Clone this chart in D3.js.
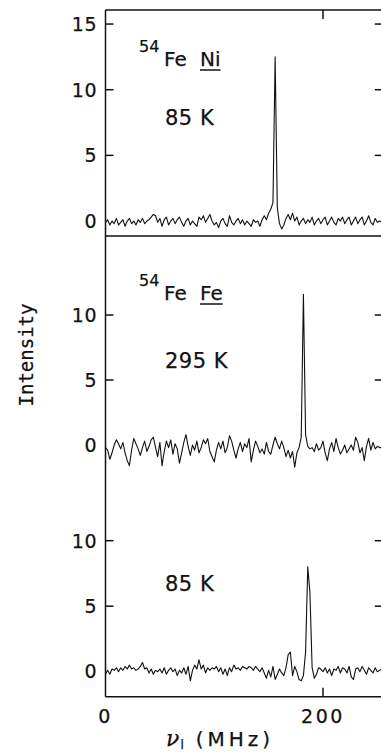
<!DOCTYPE html>
<html><head><meta charset="utf-8">
<script src="https://cdn.jsdelivr.net/npm/d3@7/dist/d3.min.js"></script>
<style>
html,body{margin:0;padding:0;background:#fff;}
svg text{fill:#111;stroke:#111;stroke-width:0.25;}
</style></head>
<body><svg id="c" width="381" height="754"></svg>
<script>
// Frequency grid step (MHz) — sample i is at i*freqStep
const freqStep = 2;
const xTicks = [0, 200];
const yTicksTop = [15, 10, 5];
const yTicksMid = [10, 5];
const yTicksBot = [10, 5];

// 54Fe in Ni, 85 K
const seriesNi85 = [
 -0.1,0.1,-0.3,0.0,-0.2,0.2,-0.3,-0.1,0.1,-0.4,
 0.0,0.2,-0.2,0.0,-0.3,0.1,-0.1,0.2,-0.2,0.0,
 0.1,0.3,0.5,0.4,-0.1,0.2,-0.4,0.1,0.3,-0.3,
 0.0,0.2,-0.2,0.1,0.3,-0.1,-0.4,0.0,0.2,-0.3,
 0.0,-0.2,-0.4,0.3,0.1,0.4,-0.1,0.2,0.5,0.0,
 -0.3,-0.1,-0.5,0.0,0.2,-0.2,-0.4,0.4,-0.1,-0.3,
 0.0,0.2,-0.2,0.1,-0.3,0.0,-0.2,-0.4,0.1,-0.1,
 0.0,-0.4,0.1,0.4,0.1,0.6,0.9,1.4,12.5,1.0,
 -0.2,-0.6,-0.3,0.2,0.5,0.1,0.6,0.0,0.3,-0.3,
 0.0,0.2,-0.2,0.1,-0.1,0.3,-0.3,0.0,0.2,-0.2,
 0.1,0.3,-0.3,0.0,0.3,-0.1,-0.3,0.2,0.0,0.3,
 -0.2,0.1,0.3,-0.3,0.0,0.3,-0.2,0.1,0.3,-0.3,
 0.0,0.4,-0.1,-0.3,0.2,-0.1,0.0,-0.1
];
// 54Fe in Fe, 295 K
const seriesFe295 = [
 -0.2,-0.4,-1.1,-0.6,0.0,0.4,0.1,-0.3,0.2,-0.6,
 -1.2,-1.6,-0.4,0.5,0.1,-0.3,-0.8,-0.2,0.3,-0.5,
 -0.1,0.4,0.6,-0.2,-0.9,0.2,-1.6,-0.5,0.3,-0.2,
 0.4,-0.7,0.1,-0.3,-1.4,-0.6,0.2,0.8,-0.1,-0.8,
 0.0,-0.4,0.3,-0.6,-0.2,0.4,0.1,0.5,-0.5,-0.9,
 -1.3,-0.4,0.2,-0.3,0.3,-0.6,-0.2,0.7,0.3,-0.4,
 -1.0,-0.3,0.2,-0.5,0.1,-0.2,0.5,-1.3,-0.4,0.3,
 -0.1,-0.6,-0.3,-0.7,0.2,-0.5,-0.7,0.0,0.6,0.1,
 -0.3,0.3,-0.2,-0.9,-0.4,-1.0,-0.5,-1.7,-0.6,-0.2,
 0.6,11.6,0.8,-0.1,-0.3,-0.2,-0.5,0.1,-0.4,-0.2,
 0.3,-0.6,-1.2,-0.3,0.2,-0.5,0.5,-0.2,-0.7,-0.4,
 0.0,-0.6,-0.3,0.0,-0.4,0.6,0.2,-0.6,-0.2,-1.2,
 -0.1,0.5,-0.4,0.2,-0.3,-0.1,-0.2,-0.2
];
// 54Fe in Fe, 85 K
const seriesFe85 = [
 -0.2,0.1,-0.2,0.2,0.1,0.3,0.0,0.3,0.1,0.4,
 0.2,0.5,0.2,0.3,0.1,0.2,0.4,0.7,0.2,0.3,
 -0.1,0.2,-0.2,0.1,0.0,0.2,-0.1,0.3,-0.2,0.1,
 0.3,0.0,0.2,-0.3,0.1,-0.1,0.3,-0.2,0.4,-0.7,
 0.1,0.5,0.2,0.9,0.2,0.5,-0.1,0.3,0.1,0.3,
 0.2,0.4,0.0,0.3,-0.2,0.2,-0.3,0.3,0.0,0.5,
 0.2,0.3,0.1,0.4,0.3,0.2,0.4,0.3,0.1,0.4,
 0.2,0.0,0.3,-0.1,-0.5,0.1,-0.4,0.4,-0.6,-0.2,
 0.2,-0.1,-0.3,0.3,1.3,1.5,-0.3,0.4,0.0,-0.6,
 -0.7,-0.3,1.5,8.0,6.0,0.3,-0.5,-0.2,0.3,0.2,
 0.0,0.3,-0.1,0.2,-0.3,0.2,0.1,0.4,-0.1,0.3,
 0.2,-0.1,0.4,-0.4,-0.6,0.2,0.3,0.0,0.4,0.1,
 -0.2,0.3,0.1,-0.1,0.3,0.0,0.1,0.2
];

const svg = d3.select("#c");
const numFont = "'DejaVu Sans', sans-serif";

const x = d3.scaleLinear().domain([0, 255]).range([105.5, 382.8]);
const yTop = d3.scaleLinear().domain([-1.14, 16.07]).range([236, 10]);
const yMid = d3.scaleLinear().domain([0, 16.08]).range([445, 236]);
const yBot = d3.scaleLinear().domain([-1.92, 10]).range([696.8, 540.7]);

const xLeft = x(0), xRight = x(255);

// frame lines
const frame = svg.append("g").attr("stroke", "#111").attr("stroke-width", 1.5).attr("fill", "none");
frame.append("line").attr("x1", xLeft).attr("x2", xRight).attr("y1", yTop.range()[1]).attr("y2", yTop.range()[1]);
frame.append("line").attr("x1", xLeft).attr("x2", xRight).attr("y1", yTop.range()[0]).attr("y2", yTop.range()[0]);
frame.append("line").attr("x1", xLeft).attr("x2", xRight).attr("y1", yBot.range()[0]).attr("y2", yBot.range()[0]);
frame.append("line").attr("x1", xLeft).attr("x2", xLeft).attr("y1", yTop.range()[1]).attr("y2", yBot.range()[0]);
frame.append("line").attr("x1", xRight).attr("x2", xRight).attr("y1", yTop.range()[1]).attr("y2", yBot.range()[0]);

// x ticks (inward) on top and bottom
xTicks.filter(d => d > 0).forEach(d => {
  frame.append("line").attr("x1", x(d)).attr("x2", x(d)).attr("y1", yTop.range()[1]).attr("y2", yTop.range()[1] + 9);
  frame.append("line").attr("x1", x(d)).attr("x2", x(d)).attr("y1", yBot.range()[0]).attr("y2", yBot.range()[0] - 9);
});
svg.append("g").selectAll("text").data(xTicks).join("text")
  .attr("x", d => x(d)).attr("y", 723).attr("text-anchor", "middle")
  .attr("font-family", numFont).attr("font-size", 19).attr("letter-spacing", 2.5)
  .text(d => d);

// y ticks per panel
function yAxis(scale, ticks) {
  ticks.forEach(t => {
    frame.append("line").attr("x1", xLeft).attr("x2", xLeft + 8).attr("y1", scale(t)).attr("y2", scale(t));
    frame.append("line").attr("x1", xRight).attr("x2", xRight - 8).attr("y1", scale(t)).attr("y2", scale(t));
  });
  svg.append("g").selectAll("text").data(ticks.concat([0])).join("text")
    .attr("x", 97).attr("y", d => scale(d)).attr("dy", "0.36em").attr("text-anchor", "end")
    .attr("font-family", numFont).attr("font-size", 19).attr("letter-spacing", 0.5)
    .text(d => d);
}
yAxis(yTop, yTicksTop);
yAxis(yMid, yTicksMid);
yAxis(yBot, yTicksBot);

// traces
function trace(values, scale) {
  const line = d3.line().x((d, i) => x(i * freqStep)).y(d => scale(d));
  svg.append("path").attr("d", line(values)).attr("fill", "none")
    .attr("stroke", "#111").attr("stroke-width", 1.1).attr("stroke-linejoin", "round");
}
trace(seriesNi85, yTop);
trace(seriesFe295, yMid);
trace(seriesFe85, yBot);

// panel labels
function isoLabel(yBase, host) {
  const g = svg.append("g").attr("font-family", numFont);
  g.append("text").attr("x", 139).attr("y", yBase - 14).attr("font-size", 16).text("54");
  g.append("text").attr("x", 164).attr("y", yBase).attr("font-size", 20).text("Fe");
  const h = g.append("text").attr("x", 200).attr("y", yBase).attr("font-size", 20).text(host);
  const w = h.node().getComputedTextLength();
  g.append("line").attr("x1", 200).attr("x2", 200 + w).attr("y1", yBase + 4).attr("y2", yBase + 4)
    .attr("stroke", "#111").attr("stroke-width", 1.5);
}
isoLabel(66, "Ni");
isoLabel(300, "Fe");

function tempLabel(txt, yBase) {
  svg.append("text").attr("x", 165).attr("y", yBase).attr("font-family", numFont)
    .attr("font-size", 21).attr("letter-spacing", 0.5).text(txt);
}
tempLabel("85 K", 125);
tempLabel("295 K", 368);
tempLabel("85 K", 591);

// axis titles
svg.append("text").attr("transform", "translate(33,355) rotate(-90)")
  .attr("text-anchor", "middle").attr("font-family", "'DejaVu Sans Mono', monospace")
  .attr("font-size", 19).text("Intensity");

const xt = svg.append("text").attr("x", 166).attr("y", 746).attr("font-family", numFont).attr("font-size", 20);
xt.append("tspan").attr("font-family", "'DejaVu Serif', serif").attr("font-style", "italic").attr("font-size", 22).text("ν");
xt.append("tspan").attr("font-size", 12).attr("dy", 3).attr("dx", 1).text("l");
xt.append("tspan").attr("dy", -3).attr("dx", 12).attr("letter-spacing", 4).text("(MHz)");
</script>
</body></html>
